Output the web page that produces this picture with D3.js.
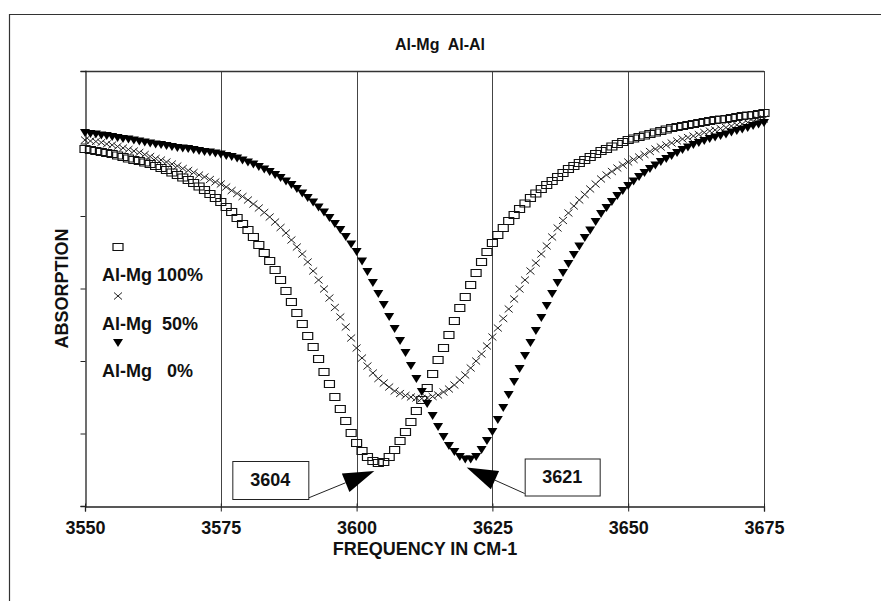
<!DOCTYPE html>
<html>
<head>
<meta charset="utf-8">
<script src="https://cdn.jsdelivr.net/npm/d3@7/dist/d3.min.js"></script>
<style>
  html, body { margin: 0; padding: 0; background: #fff; }
  svg { display: block; }
  text { font-family: "Liberation Sans", Arial, sans-serif; font-weight: bold; fill: #111; }
</style>
</head>
<body>
<svg id="chart" width="881" height="609"></svg>
<script>
// Wavenumber samples (cm-1), one per cm-1
const freq = [3550,3551,3552,3553,3554,3555,3556,3557,3558,3559,
  3560,3561,3562,3563,3564,3565,3566,3567,3568,3569,
  3570,3571,3572,3573,3574,3575,3576,3577,3578,3579,
  3580,3581,3582,3583,3584,3585,3586,3587,3588,3589,
  3590,3591,3592,3593,3594,3595,3596,3597,3598,3599,
  3600,3601,3602,3603,3604,3605,3606,3607,3608,3609,
  3610,3611,3612,3613,3614,3615,3616,3617,3618,3619,
  3620,3621,3622,3623,3624,3625,3626,3627,3628,3629,
  3630,3631,3632,3633,3634,3635,3636,3637,3638,3639,
  3640,3641,3642,3643,3644,3645,3646,3647,3648,3649,
  3650,3651,3652,3653,3654,3655,3656,3657,3658,3659,
  3660,3661,3662,3663,3664,3665,3666,3667,3668,3669,
  3670,3671,3672,3673,3674,3675];

// Absorption (arbitrary units) for each Mg substitution level
const absMg100 = [3.57,3.56,3.55,3.54,3.53,3.52,3.505,3.49,3.475,3.46,
  3.45,3.435,3.42,3.40,3.38,3.36,3.335,3.31,3.285,3.26,
  3.23,3.195,3.16,3.12,3.08,3.04,2.99,2.94,2.88,2.82,
  2.76,2.69,2.61,2.53,2.45,2.36,2.26,2.15,2.04,1.93,
  1.82,1.70,1.59,1.47,1.34,1.22,1.09,0.97,0.85,0.73,
  0.63,0.55,0.49,0.45,0.43,0.44,0.49,0.56,0.65,0.74,
  0.84,0.95,1.06,1.18,1.32,1.46,1.58,1.71,1.85,1.98,
  2.09,2.21,2.33,2.44,2.54,2.63,2.71,2.78,2.85,2.91,
  2.97,3.025,3.08,3.125,3.17,3.21,3.25,3.29,3.33,3.37,
  3.40,3.43,3.46,3.49,3.52,3.55,3.57,3.595,3.62,3.64,
  3.66,3.675,3.69,3.705,3.72,3.735,3.75,3.765,3.78,3.79,
  3.80,3.81,3.82,3.83,3.84,3.85,3.86,3.865,3.87,3.88,
  3.89,3.90,3.905,3.91,3.92,3.93];

const absMg50 = [3.66,3.65,3.645,3.635,3.62,3.61,3.595,3.58,3.565,3.55,
  3.535,3.515,3.495,3.475,3.46,3.44,3.42,3.40,3.375,3.355,
  3.335,3.31,3.29,3.265,3.24,3.22,3.19,3.155,3.125,3.095,
  3.06,3.02,2.98,2.935,2.89,2.84,2.785,2.73,2.66,2.59,
  2.52,2.44,2.35,2.26,2.17,2.08,1.985,1.89,1.79,1.68,
  1.58,1.48,1.40,1.33,1.275,1.23,1.19,1.15,1.125,1.105,
  1.09,1.08,1.075,1.08,1.095,1.11,1.14,1.17,1.21,1.26,
  1.31,1.38,1.45,1.52,1.60,1.69,1.78,1.875,1.97,2.07,
  2.17,2.26,2.35,2.43,2.52,2.60,2.69,2.78,2.855,2.93,
  3.00,3.06,3.115,3.17,3.22,3.27,3.31,3.345,3.38,3.41,
  3.44,3.465,3.49,3.515,3.545,3.57,3.59,3.61,3.63,3.65,
  3.67,3.685,3.70,3.715,3.735,3.75,3.76,3.775,3.785,3.80,
  3.81,3.82,3.835,3.845,3.86,3.87];

const absMg0 = [3.73,3.72,3.715,3.705,3.70,3.69,3.68,3.67,3.665,3.655,
  3.645,3.635,3.625,3.615,3.61,3.60,3.59,3.58,3.575,3.57,
  3.56,3.55,3.54,3.535,3.525,3.515,3.50,3.49,3.475,3.455,
  3.435,3.415,3.39,3.365,3.34,3.31,3.28,3.245,3.21,3.17,
  3.125,3.08,3.035,2.985,2.935,2.88,2.82,2.76,2.69,2.615,
  2.54,2.445,2.34,2.23,2.12,2.01,1.89,1.77,1.65,1.53,
  1.40,1.27,1.14,1.02,0.90,0.79,0.69,0.60,0.54,0.49,
  0.465,0.465,0.49,0.56,0.65,0.74,0.86,0.98,1.11,1.24,
  1.37,1.50,1.63,1.75,1.88,2.00,2.12,2.23,2.33,2.42,
  2.51,2.595,2.68,2.755,2.84,2.92,2.98,3.04,3.10,3.15,
  3.20,3.245,3.29,3.33,3.37,3.405,3.44,3.47,3.50,3.53,
  3.56,3.585,3.61,3.63,3.65,3.67,3.685,3.70,3.715,3.735,
  3.75,3.765,3.78,3.80,3.815,3.83];

const xTicks = [3550, 3575, 3600, 3625, 3650, 3675];
const seriesNames = ["Al-Mg 100%", "Al-Mg  50%", "Al-Mg   0%"];
const peakFreqs = [3604, 3621];
const chartTitle = "Al-Mg  Al-Al";
const xTitle = "FREQUENCY IN CM-1";
const yTitle = "ABSORPTION";

const svg = d3.select("#chart");
const m = { left: 85, right: 764, top: 71, bottom: 506 };
const yMax = 4.35;

const x = d3.scaleLinear().domain([3550, 3675]).range([m.left, m.right]);
const y = d3.scaleLinear().domain([0, yMax]).range([m.bottom, m.top]);
const yTickVals = d3.range(7).map(k => yMax * k / 6);

// outer frame (top and left edges)
svg.append("path")
  .attr("d", "M9.5,601 L9.5,14.5 L881,14.5")
  .attr("fill", "none").attr("stroke", "#333").attr("stroke-width", 1.2);

// title
svg.append("text").attr("x", 440).attr("y", 50)
  .attr("text-anchor", "middle").attr("font-size", 16)
  .style("white-space", "pre").text(chartTitle);

// vertical grid lines
svg.append("g").selectAll("line").data(xTicks.slice(1))
  .join("line")
  .attr("x1", d => Math.round(x(d)) + 0.5).attr("x2", d => Math.round(x(d)) + 0.5)
  .attr("y1", m.top).attr("y2", m.bottom)
  .attr("stroke", "#444").attr("stroke-width", 1);

// top border of plot
svg.append("line").attr("x1", m.left).attr("x2", m.right)
  .attr("y1", m.top + 0.5).attr("y2", m.top + 0.5)
  .attr("stroke", "#333").attr("stroke-width", 1.3);

// x axis
const xAxis = svg.append("g").attr("transform", `translate(0,${m.bottom + 0.5})`)
  .call(d3.axisBottom(x).tickValues(xTicks).tickSize(5).tickFormat(d3.format("d")));
xAxis.select(".domain").attr("stroke", "#222").attr("stroke-width", 1.3);
xAxis.selectAll(".tick line").attr("stroke", "#222").attr("y1", -3);
xAxis.selectAll(".tick text").attr("font-size", 18).attr("font-family", null)
  .attr("y", 15).attr("fill", "#111");

// y axis (unlabelled ticks)
const yAxis = svg.append("g").attr("transform", `translate(${m.left + 0.5},0)`)
  .call(d3.axisLeft(y).tickValues(yTickVals).tickSize(5).tickFormat(""));
yAxis.select(".domain").attr("stroke", "#222").attr("stroke-width", 1.3);
yAxis.selectAll(".tick line").attr("stroke", "#222");

// axis titles
svg.append("text").attr("x", 425).attr("y", 555)
  .attr("text-anchor", "middle").attr("font-size", 18).text(xTitle);
svg.append("text").attr("transform", `translate(68,${(m.top + m.bottom) / 2}) rotate(-90)`)
  .attr("text-anchor", "middle").attr("font-size", 18).text(yTitle);

// marker shapes
const squarePath = "M-5,-3.5 L5,-3.5 L5,3.5 L-5,3.5 Z";
const crossPath = "M-4,-3.5 L4,3.5 M-4,3.5 L4,-3.5";
const triPath = "M-5,-4 L5,-4 L0,4 Z";

const series = [
  { name: seriesNames[0], values: absMg100, path: squarePath, fill: "none", stroke: "#111", sw: 1.2 },
  { name: seriesNames[1], values: absMg50, path: crossPath, fill: "none", stroke: "#222", sw: 1 },
  { name: seriesNames[2], values: absMg0, path: triPath, fill: "#000", stroke: "none", sw: 0 }
];

const plot = svg.append("g");
series.forEach(s => {
  plot.append("g").selectAll("path")
    .data(freq.map((f, i) => [f, s.values[i]]))
    .join("path")
    .attr("transform", d => `translate(${x(d[0])},${y(d[1])})`)
    .attr("d", s.path)
    .attr("fill", s.fill).attr("stroke", s.stroke).attr("stroke-width", s.sw);
});

// legend
const legend = svg.append("g");
const legY = [247, 296, 343];
series.forEach((s, i) => {
  legend.append("path").attr("transform", `translate(118,${legY[i]})`)
    .attr("d", s.path).attr("fill", s.fill).attr("stroke", s.stroke).attr("stroke-width", s.sw);
  legend.append("text").attr("x", 102).attr("y", legY[i] + 34)
    .attr("font-size", 18).style("white-space", "pre").text(s.name);
});

// peak callouts: boxed wavenumber with an arrow to the band minimum
function callout(value, seriesValues, side) {
  const iMin = d3.minIndex(seriesValues);
  const tip = [x(value) - 4, y(seriesValues[iMin]) + 8];
  let box, start;
  if (side === "left") {
    box = { x: tip[0] - 142, y: tip[1] - 10, w: 76, h: 38 };
    start = [box.x + box.w, box.y + box.h - 1];
  } else {
    box = { x: tip[0] + 58, y: tip[1] - 9, w: 75, h: 37 };
    start = [box.x, box.y + box.h - 2];
  }
  const dx = tip[0] - start[0], dy = tip[1] - start[1];
  const len = Math.hypot(dx, dy), ux = dx / len, uy = dy / len;
  const headLen = 31, half = 10;
  const bx = tip[0] - ux * headLen, by = tip[1] - uy * headLen;
  const g = svg.append("g");
  g.append("line").attr("x1", start[0]).attr("y1", start[1]).attr("x2", bx).attr("y2", by)
    .attr("stroke", "#222").attr("stroke-width", 1);
  g.append("path")
    .attr("d", `M${tip[0]},${tip[1]} L${bx - uy * half},${by + ux * half} L${bx + uy * half},${by - ux * half} Z`)
    .attr("fill", "#000");
  g.append("rect").attr("x", box.x + 0.5).attr("y", box.y + 0.5).attr("width", box.w).attr("height", box.h)
    .attr("fill", "#fff").attr("stroke", "#222").attr("stroke-width", 1);
  g.append("text").attr("x", box.x + box.w / 2).attr("y", box.y + box.h / 2 + 6)
    .attr("text-anchor", "middle").attr("font-size", 18).text(String(value));
}
callout(peakFreqs[0], absMg100, "left");
callout(peakFreqs[1], absMg0, "right");
</script>
</body>
</html>
